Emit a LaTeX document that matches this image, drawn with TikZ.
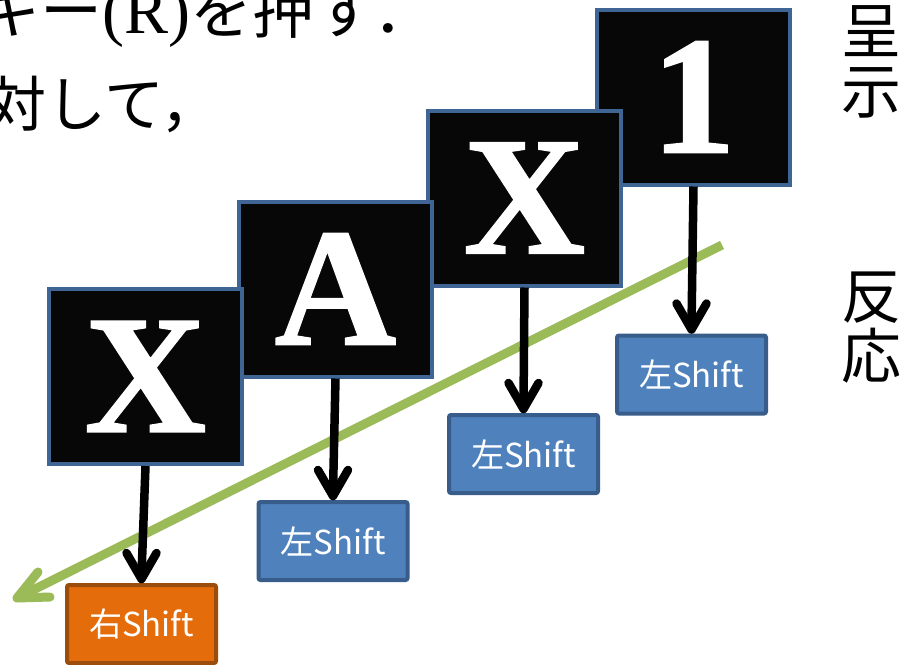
\documentclass[tikz,border=0pt]{standalone}
\usepackage{fontspec}
\setmainfont{Liberation Serif}
\newfontfamily\jp{Noto Sans CJK JP}
\newfontfamily\keyfont{Liberation Serif Bold}[FakeBold=1.2]
\usetikzlibrary{calc}
\definecolor{keyfill}{HTML}{070707}
\definecolor{keyline}{HTML}{3F6594}
\definecolor{lsfill}{HTML}{4F81BD}
\definecolor{lsline}{HTML}{385D8A}
\definecolor{rsfill}{HTML}{E46C0A}
\definecolor{rsline}{HTML}{9A4D0C}
\definecolor{grn}{HTML}{9BBB59}
\newcommand\keyarrow[2]{%
  \draw[kshaft] (#1) -- ($(#2)+(0,-8)$);
  \draw[karm] ($(#2)+(-15,-30)$) -- ($(#2)+(0,-4)$) -- ($(#2)+(15,-30)$);}
\begin{document}
\begin{tikzpicture}[x=1pt,y=-1pt,
 keybox/.style={draw=keyline, fill=keyfill, line width=4pt, minimum width=193pt, minimum height=175pt, inner sep=0pt, text=white, font=\keyfont\fontsize{168}{168}\selectfont},
 shiftbox/.style={line width=4pt, minimum width=149pt, minimum height=78pt, rounded corners=2pt, inner sep=0pt, text=white, font=\jp\fontsize{33}{33}\selectfont},
 lshift/.style={shiftbox, draw=lsline, fill=lsfill},
 rshift/.style={shiftbox, draw=rsline, fill=rsfill},
 kshaft/.style={line width=8.5pt},
 karm/.style={line width=8.5pt, line cap=round, line join=round},
 gshaft/.style={draw=grn, line width=9pt},
 garm/.style={draw=grn, line width=9pt, line cap=round, line join=round},
 bigtext/.style={inner sep=0pt, anchor=base west, font=\jp\fontsize{62}{62}\selectfont},
 sidetext/.style={inner sep=0pt, align=center, font=\jp\fontsize{60}{60}\selectfont}]
\useasboundingbox (0,0) rectangle (912,664);
\fill[white] (0,0) rectangle (912,664);

% texts
\node[bigtext] (t1) at (-22,33) {キー{\rmfamily\fontsize{66}{66}\selectfont (R)}を押す．};
\node[bigtext, font=\jp\fontsize{60}{60}\selectfont] (t2) at (-14,126) {対して，};
\node[sidetext] (show) at (871,62) {呈\\示};
\node[sidetext] (resp) at (871,328) {反\\応};

% green arrow
\coordinate (gs) at (722,245);
\coordinate (ge) at (17,598);
\draw[gshaft] (gs) -- (ge);
\draw[garm] ($(ge)+(21,-26)$) -- (ge) -- ($(ge)+(33,-1)$);

% key boxes
\node[keybox] (k1) at (693.5,97) {1};
\node[keybox] (kx2) at (524.5,198) {X};
\node[keybox] (ka) at (335.5,289) {A};
\node[keybox] (kx1) at (145.5,376.5) {X};

% shift boxes
\node[rshift] (rs) at (141.5,624) {右Shift};
\node[lshift] (ls1) at (333,541) {左Shift};
\node[lshift] (ls2) at (523.5,454) {左Shift};
\node[lshift] (ls3) at (691.5,374.5) {左Shift};

% arrows
\keyarrow{kx1.south}{rs.north}
\keyarrow{ka.south}{ls1.north}
\keyarrow{kx2.south}{ls2.north}
\keyarrow{k1.south}{ls3.north}
\end{tikzpicture}
\end{document}
